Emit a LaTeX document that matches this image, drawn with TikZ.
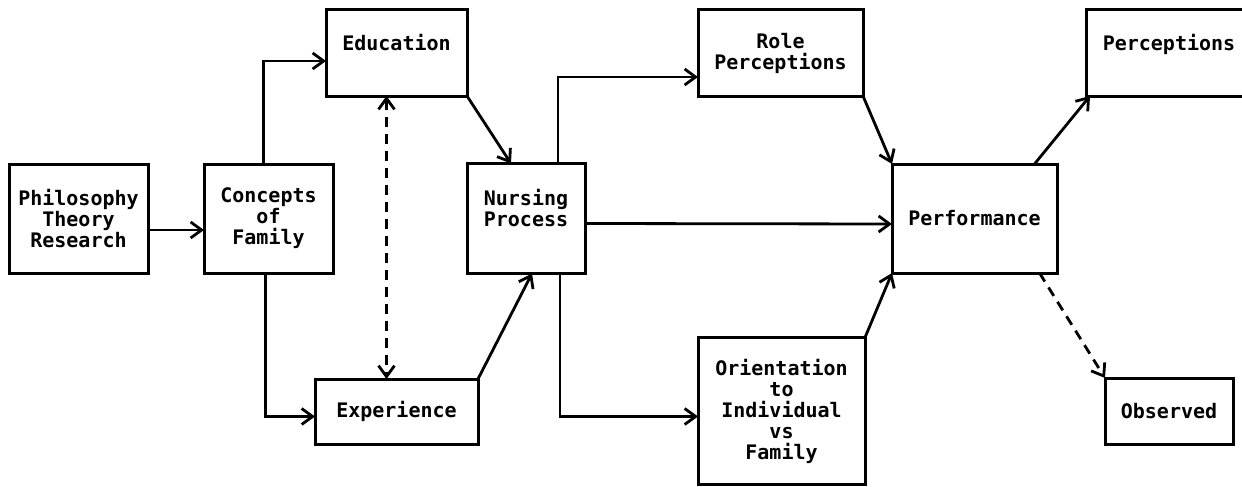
\documentclass[tikz,border=0pt]{standalone}
\usepackage{fontspec}
\setmonofont{DejaVu Sans Mono}
\usepackage{tikz}
\usetikzlibrary{arrows.meta, positioning}
\tikzstyle{arrow}=[-{Straight Barb[length=11pt,width=16pt]}, line width=2.8pt, color=black]
\tikzstyle{dasharrow}=[arrow, dash pattern=on 10pt off 7pt]

\begin{document}
\begin{tikzpicture}[node distance=50pt and 50pt,
  box/.style={rectangle, draw=black, line width=3pt, inner sep=0pt, outer sep=0pt,
              align=center, font=\ttfamily\bfseries\fontsize{20}{21}\selectfont},
  wide/.style={box, minimum width=165pt, minimum height=86pt}
]
\useasboundingbox (0,0) rectangle (1242pt,-487pt);
% Sources
\node[box, minimum width=139pt, minimum height=109pt] (phil) at (78.5pt,-218.5pt) {Philosophy\\Theory\\Research};
\node[box, minimum width=129pt, minimum height=109pt, right=56pt of phil] (concepts) {Concepts\\of\\Family};

% Education / experience
\node[box, minimum width=141pt, minimum height=86pt, above right=68pt and -7pt of concepts] (educ) {Education\\\phantom{X}};
\node[box, minimum width=163pt, minimum height=65pt, below right=106pt and -18pt of concepts] (exper) {Experience};

% Process
\node[box, minimum width=118pt, minimum height=110pt, right=134pt of concepts] (nursing) {Nursing\\Process\\\phantom{X}};
\node[wide, right=231pt of educ] (role) {Role\\Perceptions};
\node[box, minimum width=167pt, minimum height=147pt, below right=64pt and 113pt of nursing] (orient) {Orientation\\to\\Individual\\vs\\Family};

% Outcome
\node[box, minimum width=165pt, minimum height=109pt, right=307pt of nursing] (perf) {Performance};
\node[wide, minimum width=166pt, right=223pt of role] (percep) {Perceptions\\\phantom{X}};
\node[box, minimum width=128pt, minimum height=66pt, below right=105pt and 48pt of perf] (observed) {Observed};

\draw[arrow] ([yshift=-11.5pt]phil.east) -- ([yshift=-11.5pt]concepts.west);
\draw[arrow] ([xshift=-5pt]concepts.north) |- ([yshift=-8pt]educ.west);
\draw[arrow] ([xshift=-3pt]concepts.south) |- ([yshift=-5pt]exper.west);
\draw[dasharrow, {Straight Barb[length=11pt,width=16pt]}-{Straight Barb[length=11pt,width=16pt]}]
  ([xshift=-10pt]educ.south) -- ([xshift=-10pt]exper.north);
\draw[arrow] (educ.south east) -- ([xshift=-15pt]nursing.north);
\draw[arrow] (exper.north east) -- ([xshift=6pt]nursing.south);
\draw[arrow] ([xshift=32pt]nursing.north) |- ([yshift=-24pt]role.west);
\draw[arrow] ([xshift=34pt]nursing.south) |- ([yshift=-5.5pt]orient.west);
\draw[arrow] ([yshift=-5pt]nursing.east) -- ([yshift=-5.5pt]perf.west);
\draw[arrow] (role.south east) -- (perf.north west);
\draw[arrow] (orient.north east) -- (perf.south west);
\draw[arrow] ([xshift=60pt]perf.north) -- ([xshift=4pt]percep.south west);
\draw[dasharrow] ([xshift=65pt]perf.south) -- (observed.north west);
\end{tikzpicture}
\end{document}
